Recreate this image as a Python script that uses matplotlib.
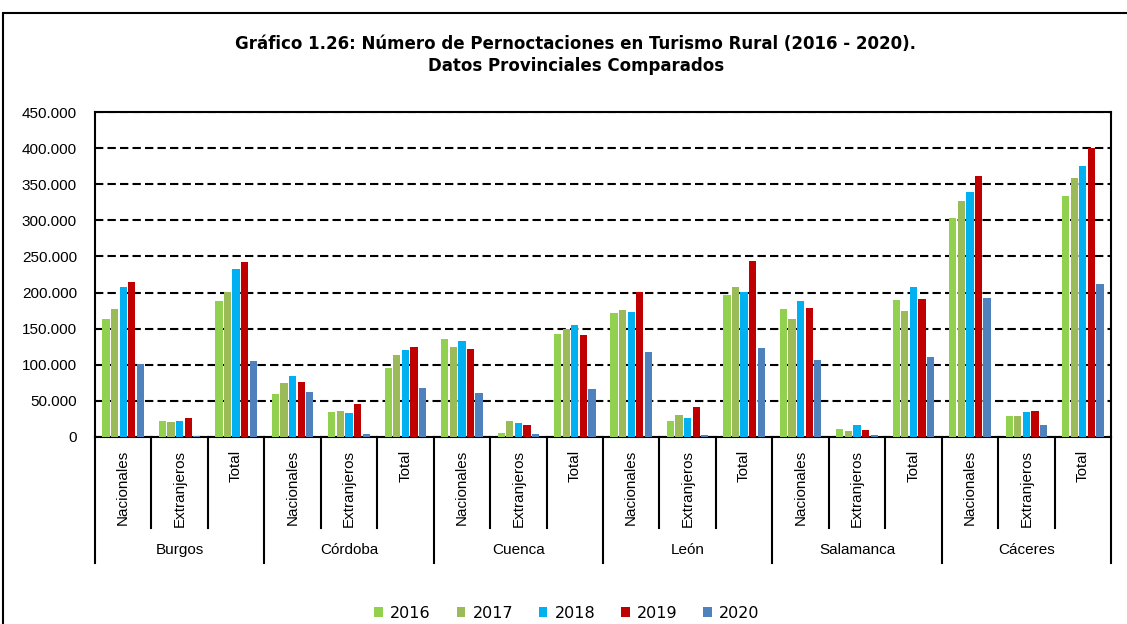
import matplotlib.pyplot as plt
import numpy as np
from matplotlib.patches import Rectangle
from matplotlib.ticker import FuncFormatter
import matplotlib.transforms as mtransforms

provinces = ["Burgos", "Córdoba", "Cuenca", "León", "Salamanca", "Cáceres"]
subcats = ["Nacionales", "Extranjeros", "Total"]
years = ["2016", "2017", "2018", "2019", "2020"]
colors = ["#92D050", "#9BBB59", "#00B0F0", "#C00000", "#4F81BD"]

# one list per year, 18 values: province x (Nacionales, Extranjeros, Total)
v2016 = [164000, 22000, 189000, 59000, 34000, 95000, 136000, 5000, 143000,
         172000, 21600, 196000, 176600, 11500, 190000, 302700, 28500, 333500]
v2017 = [177600, 21000, 201000, 75000, 35400, 113000, 125000, 21600, 150000,
         175700, 30000, 208000, 163800, 7800, 174800, 327000, 28500, 358000]
v2018 = [208000, 22500, 232800, 85000, 32700, 120000, 133000, 19800, 155500,
         173400, 25800, 201000, 188600, 17000, 208000, 338600, 34500, 375400]
v2019 = [214000, 26000, 243000, 76000, 46000, 124000, 122000, 16000, 141000,
         200600, 41400, 244000, 178500, 10000, 191000, 361600, 35400, 399700]
v2020 = [101700, 1000, 105000, 62000, 4000, 68500, 60700, 3700, 67000,
         118000, 2300, 123000, 106700, 2800, 111000, 192700, 17000, 212000]
series = [v2016, v2017, v2018, v2019, v2020]

fig = plt.figure(figsize=(11.27, 6.24), dpi=100)
ax = fig.add_axes([95 / 1127, 1 - 437 / 624, 1016 / 1127, 325 / 624])

n = len(provinces) * len(subcats)
x = np.arange(n)
step = 0.152
for i, (vals, col, yr) in enumerate(zip(series, colors, years)):
    ax.bar(x + (i - 2) * step, vals, width=0.128, color=col, label=yr, zorder=3)

ax.set_xlim(-0.5, n - 0.5)
ax.set_ylim(0, 450000)
ax.set_yticks(np.arange(0, 450001, 50000))
ax.yaxis.set_major_formatter(FuncFormatter(lambda v, p: f"{int(v):,}".replace(",", ".")))
ax.tick_params(axis="y", direction="in", length=5, width=1.2, pad=13,
               labelsize=11, labelfontfamily="Liberation Sans")
ax.set_xticks([])
ax.yaxis.grid(True, color="black", linestyle=(0, (4, 2)), linewidth=1.5, zorder=1)
for s in ax.spines.values():
    s.set_linewidth(1.5)
    s.set_color("black")

# two-level category axis below the plot
trans = mtransforms.blended_transform_factory(ax.transData, ax.transAxes)
for k in range(n + 1):
    xb = k - 0.5
    y_end = -0.388 if k % 3 == 0 else -0.28
    ax.plot([xb, xb], [0, y_end], color="black", lw=1.5, transform=trans, clip_on=False)
for k in range(n):
    ax.text(k, -0.04, subcats[k % 3], rotation=90, ha="center", va="top",
            fontsize=11, family="Liberation Sans", transform=trans)
for p, name in enumerate(provinces):
    ax.text(p * 3 + 1, -0.348, name, ha="center", va="center",
            fontsize=11, family="Liberation Sans", transform=trans)

fig.text(0.511, 1 - 55 / 624, "Gráfico 1.26: Número de Pernoctaciones en Turismo Rural (2016 - 2020).\nDatos Provinciales Comparados",
         ha="center", va="center", fontsize=12, fontweight="bold", linespacing=1.3)

fig.legend(loc="center", bbox_to_anchor=(567 / 1127, 1 - 613 / 624), ncol=5, frameon=False,
           fontsize=11.5, handlelength=0.55, handleheight=0.55, handletextpad=0.45,
           columnspacing=1.6)

fig.patches.append(Rectangle((3 / 1127, -0.1), 1.1, 1.1 - 13 / 624, transform=fig.transFigure,
                             fill=False, edgecolor="black", lw=1.5))

fig.savefig("out.png", dpi=100)
plt.close(fig)
